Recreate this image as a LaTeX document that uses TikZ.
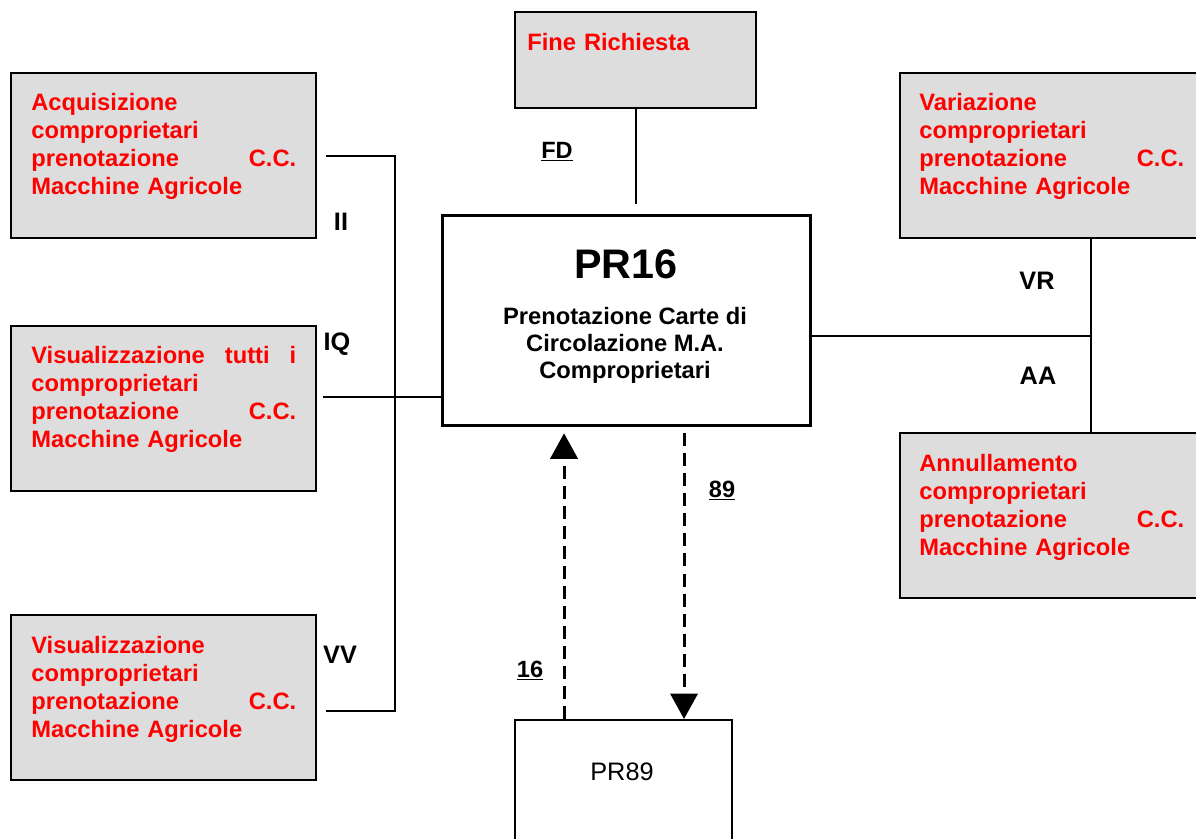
\documentclass[tikz,border=0pt]{standalone}
\usepackage{fontspec}
\setmainfont{Liberation Sans}
\usetikzlibrary{arrows.meta}
\definecolor{boxgrey}{RGB}{221,221,221}
\tikzset{
  % grey box of a called function
  greybox/.style={draw=black,line width=1.2pt,fill=boxgrey,inner sep=0pt,
    anchor=north west,minimum width=6.1cm,minimum height=3.3cm},
  % red bold text inside a grey box
  redtext/.style={anchor=north west,inner sep=0pt,text width=5.3cm,align=left,
    text=red,font=\fontsize{13.5}{15.9}\selectfont\bfseries},
  % labels of the links
  linklabel/.style={anchor=base,inner sep=0pt,font=\fontsize{14.4}{17}\selectfont\bfseries},
  numlabel/.style={anchor=base,inner sep=0pt,font=\fontsize{13.4}{16}\selectfont\bfseries},
  link/.style={draw=black,line width=0.9pt},
  % dashed call arrow
  flow/.style={draw=black,line width=1.7pt,dash pattern=on 7.4pt off 4pt,
    -{Triangle[length=14.5pt,width=15.5pt]}},
}

\begin{document}
\begin{tikzpicture}[x=0.02cm,y=-0.02cm]
\useasboundingbox (0,0) rectangle (1196,838);
\clip (0,0) rectangle (1196,838);
% left boxes
\node[greybox] (acq) at (10,72) {};
\node[redtext] (acqt) at (31,93) {Acquisizione\\comproprietari\\prenotazione\hfill C.C.\\Macchine Agricole};
\node[greybox] (iq) at (10,325) {};
\node[redtext] (iqt) at (31,346) {Visualizzazione\hfill tutti\hfill i\\comproprietari\\prenotazione\hfill C.C.\\Macchine Agricole};
\node[greybox] (vv) at (10,614) {};
\node[redtext] (vvt) at (31,636) {Visualizzazione\\comproprietari\\prenotazione\hfill C.C.\\Macchine Agricole};
% right boxes
\node[greybox] (var) at (899,72) {};
\node[redtext] (vart) at (919,93) {Variazione\\comproprietari\\prenotazione\hfill C.C.\\Macchine Agricole};
\node[greybox] (ann) at (899,432) {};
\node[redtext] (annt) at (919,454) {Annullamento\\comproprietari\\prenotazione\hfill C.C.\\Macchine Agricole};
% top
\node[greybox,minimum width=4.82cm,minimum height=1.92cm] (fine) at (514,11) {};
\node[redtext,text width=4cm] (finet) at (527,33) {Fine Richiesta};
% centre
\node[draw=black,line width=1.9pt,anchor=north west,inner sep=0pt,
  minimum width=7.36cm,minimum height=4.2cm] (pr16) at (441,214) {};
\node[anchor=base,inner sep=0pt,font=\fontsize{23.5}{26}\selectfont\bfseries] (pr16title) at (626,278) {PR16};
\node[anchor=north,inner sep=0pt,align=center,font=\fontsize{13.5}{15.3}\selectfont\bfseries]
  (pr16sub) at (625,307) {Prenotazione Carte di\\Circolazione M.A.\\Comproprietari};
% bottom
\node[draw=black,line width=1.2pt,anchor=north west,inner sep=0pt,
  minimum width=4.34cm,minimum height=3cm] (pr89) at (514,719) {};
\node[anchor=base,inner sep=0pt,font=\fontsize{14.4}{17}\selectfont] (pr89t) at (622,780) {PR89};

% links
\coordinate (busA) at (395,156);
\coordinate (busV) at (395,711);
\draw[link] ([xshift=0.18cm]acq.east |- busA) -- (busA) -- (busV) -- ([xshift=0.18cm]vv.east |- busV);
\coordinate (iqin) at (323,397);
\draw[link] (iqin) -- (iqin -| pr16.west);
\coordinate (busR) at (1091,336);
\draw[link] (var.south -| busR) -- (ann.north -| busR);
\draw[link] (pr16.east |- busR) -- (busR);
\draw[link,line width=1.1pt,shorten >=0.2cm] (fine.south) -- (fine.south |- pr16.north);
\draw[flow,shorten >=0.12cm] ([xshift=-1.19cm]pr89.north) -- ([xshift=-1.19cm]pr89.north |- pr16.south);
\draw[flow,shorten <=0.12cm] ([xshift=1.21cm]pr89.north |- pr16.south) -- ([xshift=1.21cm]pr89.north);

% labels
\node[linklabel] (lII) at (341,230) {II};
\node[linklabel] (lIQ) at (337,350) {IQ};
\node[linklabel] (lVV) at (340,663) {VV};
\node[linklabel] (lVR) at (1037,289) {VR};
\node[linklabel] (lAA) at (1038,384) {AA};
\node[numlabel] (lFD) at (557,158) {\underline{FD}};
\node[numlabel] (l89) at (722,497) {\underline{89}};
\node[numlabel] (l16) at (530,677) {\underline{16}};
\end{tikzpicture}
\end{document}
